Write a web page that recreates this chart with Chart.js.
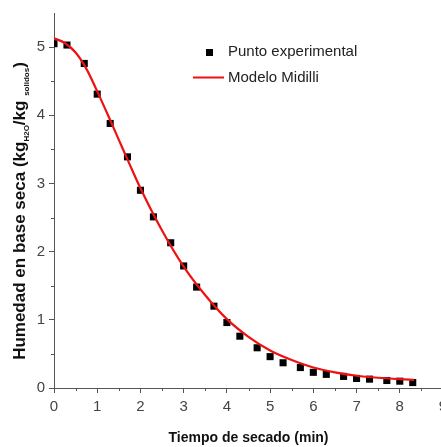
<!DOCTYPE html>
<html>
<head>
<meta charset="utf-8">
<script src="https://cdn.jsdelivr.net/npm/chart.js@4.4.1/dist/chart.umd.min.js"></script>
<style>
  html, body { margin: 0; padding: 0; background: #fff; overflow: hidden; }
  #wrap { width: 441px; height: 447px; overflow: hidden; position: relative; }
  #ytitle {
    position: absolute; left: -180px; top: 201px; width: 400px; height: 20px;
    line-height: 20px; text-align: center; white-space: nowrap;
    transform: rotate(-90deg); transform-origin: 200px 10px;
    font: bold 17px 'Liberation Sans', Arial, sans-serif; color: #111;
  }
  #ytitle sub { font-size: 8px; vertical-align: -4px; }
</style>
</head>
<body>
<div id="wrap">
  <canvas id="secado_chart" width="470" height="447"></canvas>
  <div id="ytitle">Humedad en base seca (kg<sub>H2O</sub>/kg <sub>solidos</sub>)</div>
</div>
<script>
// tiempo (min) y humedad (kg H2O / kg solidos)
const tiempoExp = [0, 0.3, 0.7, 1.0, 1.3, 1.7, 2.0, 2.3, 2.7, 3.0, 3.3, 3.7, 4.0, 4.3, 4.7,
                   5.0, 5.3, 5.7, 6.0, 6.3, 6.7, 7.0, 7.3, 7.7, 8.0, 8.3];
const humedadExp = [5.05, 5.03, 4.76, 4.31, 3.88, 3.39, 2.90, 2.51, 2.13, 1.79, 1.48, 1.20, 0.96, 0.76, 0.59,
                    0.46, 0.37, 0.30, 0.23, 0.20, 0.17, 0.14, 0.13, 0.11, 0.10, 0.08];

const tiempoModelo = [0, 0.25, 0.5, 0.75, 1.0, 1.25, 1.5, 1.75, 2.0, 2.5, 3.0, 3.5, 4.0, 4.5,
                      5.0, 5.5, 6.0, 6.5, 7.0, 7.5, 8.0, 8.33];
const humedadModelo = [5.13, 5.06, 4.92, 4.68, 4.35, 4.00, 3.64, 3.28, 2.93, 2.31, 1.78, 1.36, 1.01, 0.75,
                       0.55, 0.41, 0.30, 0.23, 0.18, 0.15, 0.13, 0.12];

const xTicks = [0, 1, 2, 3, 4, 5, 6, 7, 8, 9];
const yTicks = [0, 1, 2, 3, 4, 5];

const labelsLeyenda = ['Punto experimental', 'Modelo Midilli'];

const axisColor = '#555';
const tickFont = "'Liberation Sans Narrow', 'Liberation Sans', Arial, sans-serif";

function toXY(xs, ys) {
  return xs.map((x, i) => ({ x: x, y: ys[i] }));
}

// ticks menores y leyenda
const extras = {
  id: 'extras',
  afterDraw(chart) {
    const c = chart.ctx;
    const xs = chart.scales.x, ys = chart.scales.y;
    const area = chart.chartArea;
    c.save();
    c.strokeStyle = axisColor;
    c.lineWidth = 1;
    c.beginPath();
    for (let v = 0.5; v < 9; v += 1) {
      const px = Math.round(xs.getPixelForValue(v)) + 0.5;
      c.moveTo(px, area.bottom);
      c.lineTo(px, area.bottom + 3);
    }
    for (let v = 0.5; v < 5.5; v += 1) {
      const py = Math.round(ys.getPixelForValue(v)) + 0.5;
      c.moveTo(area.left - 3, py);
      c.lineTo(area.left, py);
    }
    c.stroke();
    c.restore();

    // leyenda
    c.save();
    c.font = "15px " + tickFont;
    c.textAlign = 'left';
    c.textBaseline = 'middle';
    c.fillStyle = '#000';
    c.fillRect(206, 49, 7, 7);
    c.fillStyle = '#222';
    c.fillText(labelsLeyenda[0], 228, 52);
    c.strokeStyle = '#ee1111';
    c.lineWidth = 2;
    c.beginPath();
    c.moveTo(193, 77.5);
    c.lineTo(224, 77.5);
    c.stroke();
    c.fillText(labelsLeyenda[1], 228, 78);
    c.restore();
  }
};

const ctx = document.getElementById('secado_chart');

new Chart(ctx, {
  type: 'scatter',
  data: {
    datasets: [
      {
        label: labelsLeyenda[1],
        type: 'line',
        data: toXY(tiempoModelo, humedadModelo),
        borderColor: '#ee1111',
        borderWidth: 2.2,
        pointRadius: 0,
        cubicInterpolationMode: 'monotone',
        fill: false,
        order: 0
      },
      {
        label: labelsLeyenda[0],
        data: toXY(tiempoExp, humedadExp),
        pointStyle: 'rect',
        pointRadius: 5,
        backgroundColor: '#000',
        borderColor: '#000',
        borderWidth: 0,
        order: 1
      }
    ]
  },
  options: {
    responsive: false,
    animation: false,
    layout: { padding: { top: 13, right: 27, left: 0, bottom: 0 } },
    plugins: {
      legend: { display: false },
      tooltip: { enabled: false }
    },
    scales: {
      x: {
        type: 'linear',
        min: 0,
        max: 9,
        afterBuildTicks: s => { s.ticks = xTicks.map(v => ({ value: v })); },
        afterFit: s => { s.height = 59; },
        border: { color: axisColor, width: 1 },
        grid: { drawOnChartArea: false, tickLength: 5, tickColor: axisColor },
        ticks: { color: '#444', font: { family: tickFont, size: 15 }, padding: 5, maxRotation: 0, minRotation: 0 },
        title: {
          display: true,
          text: 'Tiempo de secado (min)',
          color: '#111',
          font: { family: "'Liberation Sans', Arial, sans-serif", size: 14, weight: 'bold' },
          padding: { top: 0, bottom: 0 }
        }
      },
      y: {
        type: 'linear',
        min: 0,
        max: 5.5,
        afterBuildTicks: s => { s.ticks = yTicks.map(v => ({ value: v })); },
        afterFit: s => { s.width = 54; },
        border: { color: axisColor, width: 1 },
        grid: { drawOnChartArea: false, tickLength: 5, tickColor: axisColor },
        ticks: { color: '#444', font: { family: tickFont, size: 15 }, padding: 4, maxRotation: 0, minRotation: 0 }
      }
    }
  },
  plugins: [extras]
});
</script>
</body>
</html>
